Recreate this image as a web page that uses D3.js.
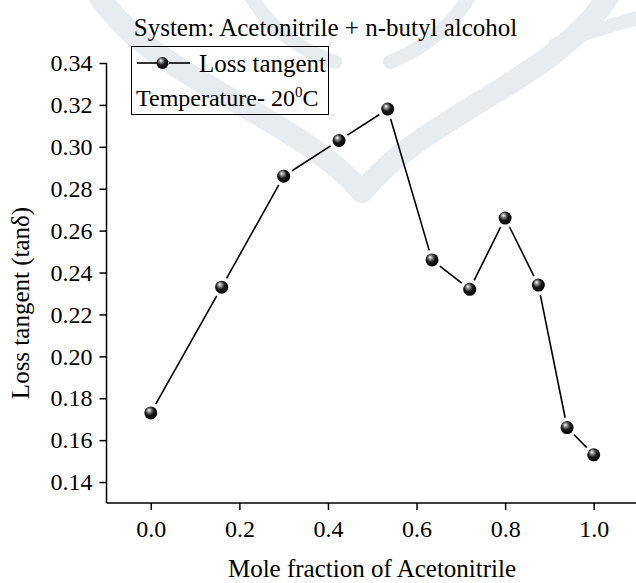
<!DOCTYPE html>
<html>
<head>
<meta charset="utf-8">
<script src="https://cdn.jsdelivr.net/npm/d3@7"></script>
<style>
  body { margin: 0; background: #fff; }
  svg { display: block; font-family: "Liberation Serif", "Times New Roman", serif; }
</style>
</head>
<body>
<div class="chart-box"></div>
<script>
// data
let moleFraction = [0.0, 0.16, 0.30, 0.425, 0.535, 0.635, 0.72, 0.80, 0.875, 0.94, 1.0];
let lossTangent  = [0.173, 0.233, 0.286, 0.303, 0.318, 0.246, 0.232, 0.266, 0.234, 0.166, 0.153];
let xTicks = [0.0, 0.2, 0.4, 0.6, 0.8, 1.0];
let xMinor = [-0.1, 0.1, 0.3, 0.5, 0.7, 0.9, 1.1];
let yTicks = [0.14, 0.16, 0.18, 0.20, 0.22, 0.24, 0.26, 0.28, 0.30, 0.32, 0.34];
let yMinor = [0.13, 0.15, 0.17, 0.19, 0.21, 0.23, 0.25, 0.27, 0.29, 0.31, 0.33];

let width = 636, height = 583;

let svg = d3.select('.chart-box')
  .append('svg')
  .attr('width', width)
  .attr('height', height);

// faint watermark behind everything
let wm = svg.append('g')
  .attr('fill', 'none')
  .attr('stroke', '#e6ecef')
  .attr('stroke-linecap', 'round');
wm.append('path').attr('stroke-width', 22)
  .attr('d', 'M95,-10 C150,80 290,110 362,192');
wm.append('path').attr('stroke-width', 22)
  .attr('d', 'M612,-10 C560,80 430,110 362,192');
wm.append('path').attr('stroke-width', 14)
  .attr('d', 'M250,-5 C270,30 300,50 335,62');
wm.append('path').attr('stroke-width', 14)
  .attr('d', 'M470,-5 C450,30 420,50 390,62');
wm.append('path').attr('stroke-width', 14)
  .attr('d', 'M650,15 C610,25 580,35 555,45');

let x = d3.scaleLinear().domain([-0.1, 1.1]).range([106.5, 638]);
let y = d3.scaleLinear().domain([0.13, 0.34]).range([503, 63]);

// x axis
let gx = svg.append('g').attr('transform', 'translate(0,' + y(0.13) + ')');
gx.call(d3.axisBottom(x).tickValues(xMinor).tickSize(4).tickFormat(''));
gx.call(d3.axisBottom(x).tickValues(xTicks).tickSize(7).tickPadding(10).tickFormat(d3.format('.1f')));
gx.selectAll('path.domain').remove();
gx.append('line').attr('x1', x(-0.1)).attr('x2', x(1.1)).attr('stroke', '#000').attr('stroke-width', 1.5);

// y axis
let gy = svg.append('g').attr('transform', 'translate(' + x(-0.1) + ',0)');
gy.call(d3.axisLeft(y).tickValues(yMinor).tickSize(4).tickFormat(''));
gy.call(d3.axisLeft(y).tickValues(yTicks).tickSize(7).tickPadding(7).tickFormat(d3.format('.2f')));
gy.selectAll('path.domain').remove();
gy.append('line').attr('y1', y(0.13)).attr('y2', y(0.34)).attr('stroke', '#000').attr('stroke-width', 1.5);

svg.selectAll('.tick line').attr('stroke-width', 1.5);
svg.selectAll('.tick text')
  .attr('font-family', '"Liberation Serif", serif')
  .attr('font-size', 24)
  .attr('fill', '#000');

// ball marker gradient
let defs = svg.append('defs');
let grad = defs.append('radialGradient').attr('id', 'ball')
  .attr('cx', '45%').attr('cy', '40%').attr('r', '60%')
  .attr('fx', '35%').attr('fy', '28%');
grad.append('stop').attr('offset', '0%').attr('stop-color', '#ffffff');
grad.append('stop').attr('offset', '22%').attr('stop-color', '#9a9a9a');
grad.append('stop').attr('offset', '55%').attr('stop-color', '#1a1a1a');
grad.append('stop').attr('offset', '100%').attr('stop-color', '#000');

let pts = moleFraction.map(function (d, i) { return [x(d), y(lossTangent[i])]; });

// segments with small gaps at the markers
let gap = 10;
let segs = d3.pairs(pts).map(function (p) {
  let dx = p[1][0] - p[0][0], dy = p[1][1] - p[0][1];
  let len = Math.sqrt(dx * dx + dy * dy);
  let ux = dx / len, uy = dy / len;
  return [[p[0][0] + ux * gap, p[0][1] + uy * gap], [p[1][0] - ux * gap, p[1][1] - uy * gap]];
});
svg.append('g')
  .selectAll('line')
  .data(segs)
  .enter()
  .append('line')
  .attr('x1', function (d) { return d[0][0]; })
  .attr('y1', function (d) { return d[0][1]; })
  .attr('x2', function (d) { return d[1][0]; })
  .attr('y2', function (d) { return d[1][1]; })
  .attr('stroke', '#000')
  .attr('stroke-width', 1.6);

svg.append('g')
  .selectAll('circle')
  .data(pts)
  .enter()
  .append('circle')
  .attr('cx', function (d) { return d[0]; })
  .attr('cy', function (d) { return d[1]; })
  .attr('r', 6.5)
  .attr('fill', 'url(#ball)');

// title
svg.append('text')
  .attr('x', 325.5).attr('y', 36)
  .attr('text-anchor', 'middle')
  .attr('font-size', 25)
  .attr('fill', '#000')
  .text('System: Acetonitrile + n-butyl alcohol');

// legend box
let lg = svg.append('g');
lg.append('rect')
  .attr('x', 131.5).attr('y', 46.5)
  .attr('width', 197).attr('height', 68)
  .attr('fill', 'none').attr('stroke', '#000').attr('stroke-width', 1);
lg.append('line').attr('x1', 137).attr('x2', 157).attr('y1', 63).attr('y2', 63)
  .attr('stroke', '#000').attr('stroke-width', 1.6);
lg.append('line').attr('x1', 169).attr('x2', 190).attr('y1', 63).attr('y2', 63)
  .attr('stroke', '#000').attr('stroke-width', 1.6);
lg.append('circle').attr('cx', 162.5).attr('cy', 63).attr('r', 6)
  .attr('fill', 'url(#ball)');
lg.append('text').attr('x', 199).attr('y', 72)
  .attr('font-size', 25)
  .attr('fill', '#000')
  .text('Loss tangent');
let temp = lg.append('text').attr('x', 136).attr('y', 106)
  .attr('font-size', 24)
  .attr('fill', '#000');
temp.append('tspan').text('Temperature- 20');
temp.append('tspan').attr('dy', -9).attr('font-size', 15).text('0');
temp.append('tspan').attr('dy', 9).text('C');

// axis titles
svg.append('text')
  .attr('x', 372).attr('y', 577)
  .attr('text-anchor', 'middle')
  .attr('font-size', 25)
  .attr('fill', '#000')
  .text('Mole fraction of Acetonitrile');

svg.append('text')
  .attr('transform', 'translate(29,303) rotate(-90)')
  .attr('text-anchor', 'middle')
  .attr('font-size', 25)
  .attr('fill', '#000')
  .text('Loss tangent (tanδ)');
</script>
</body>
</html>
